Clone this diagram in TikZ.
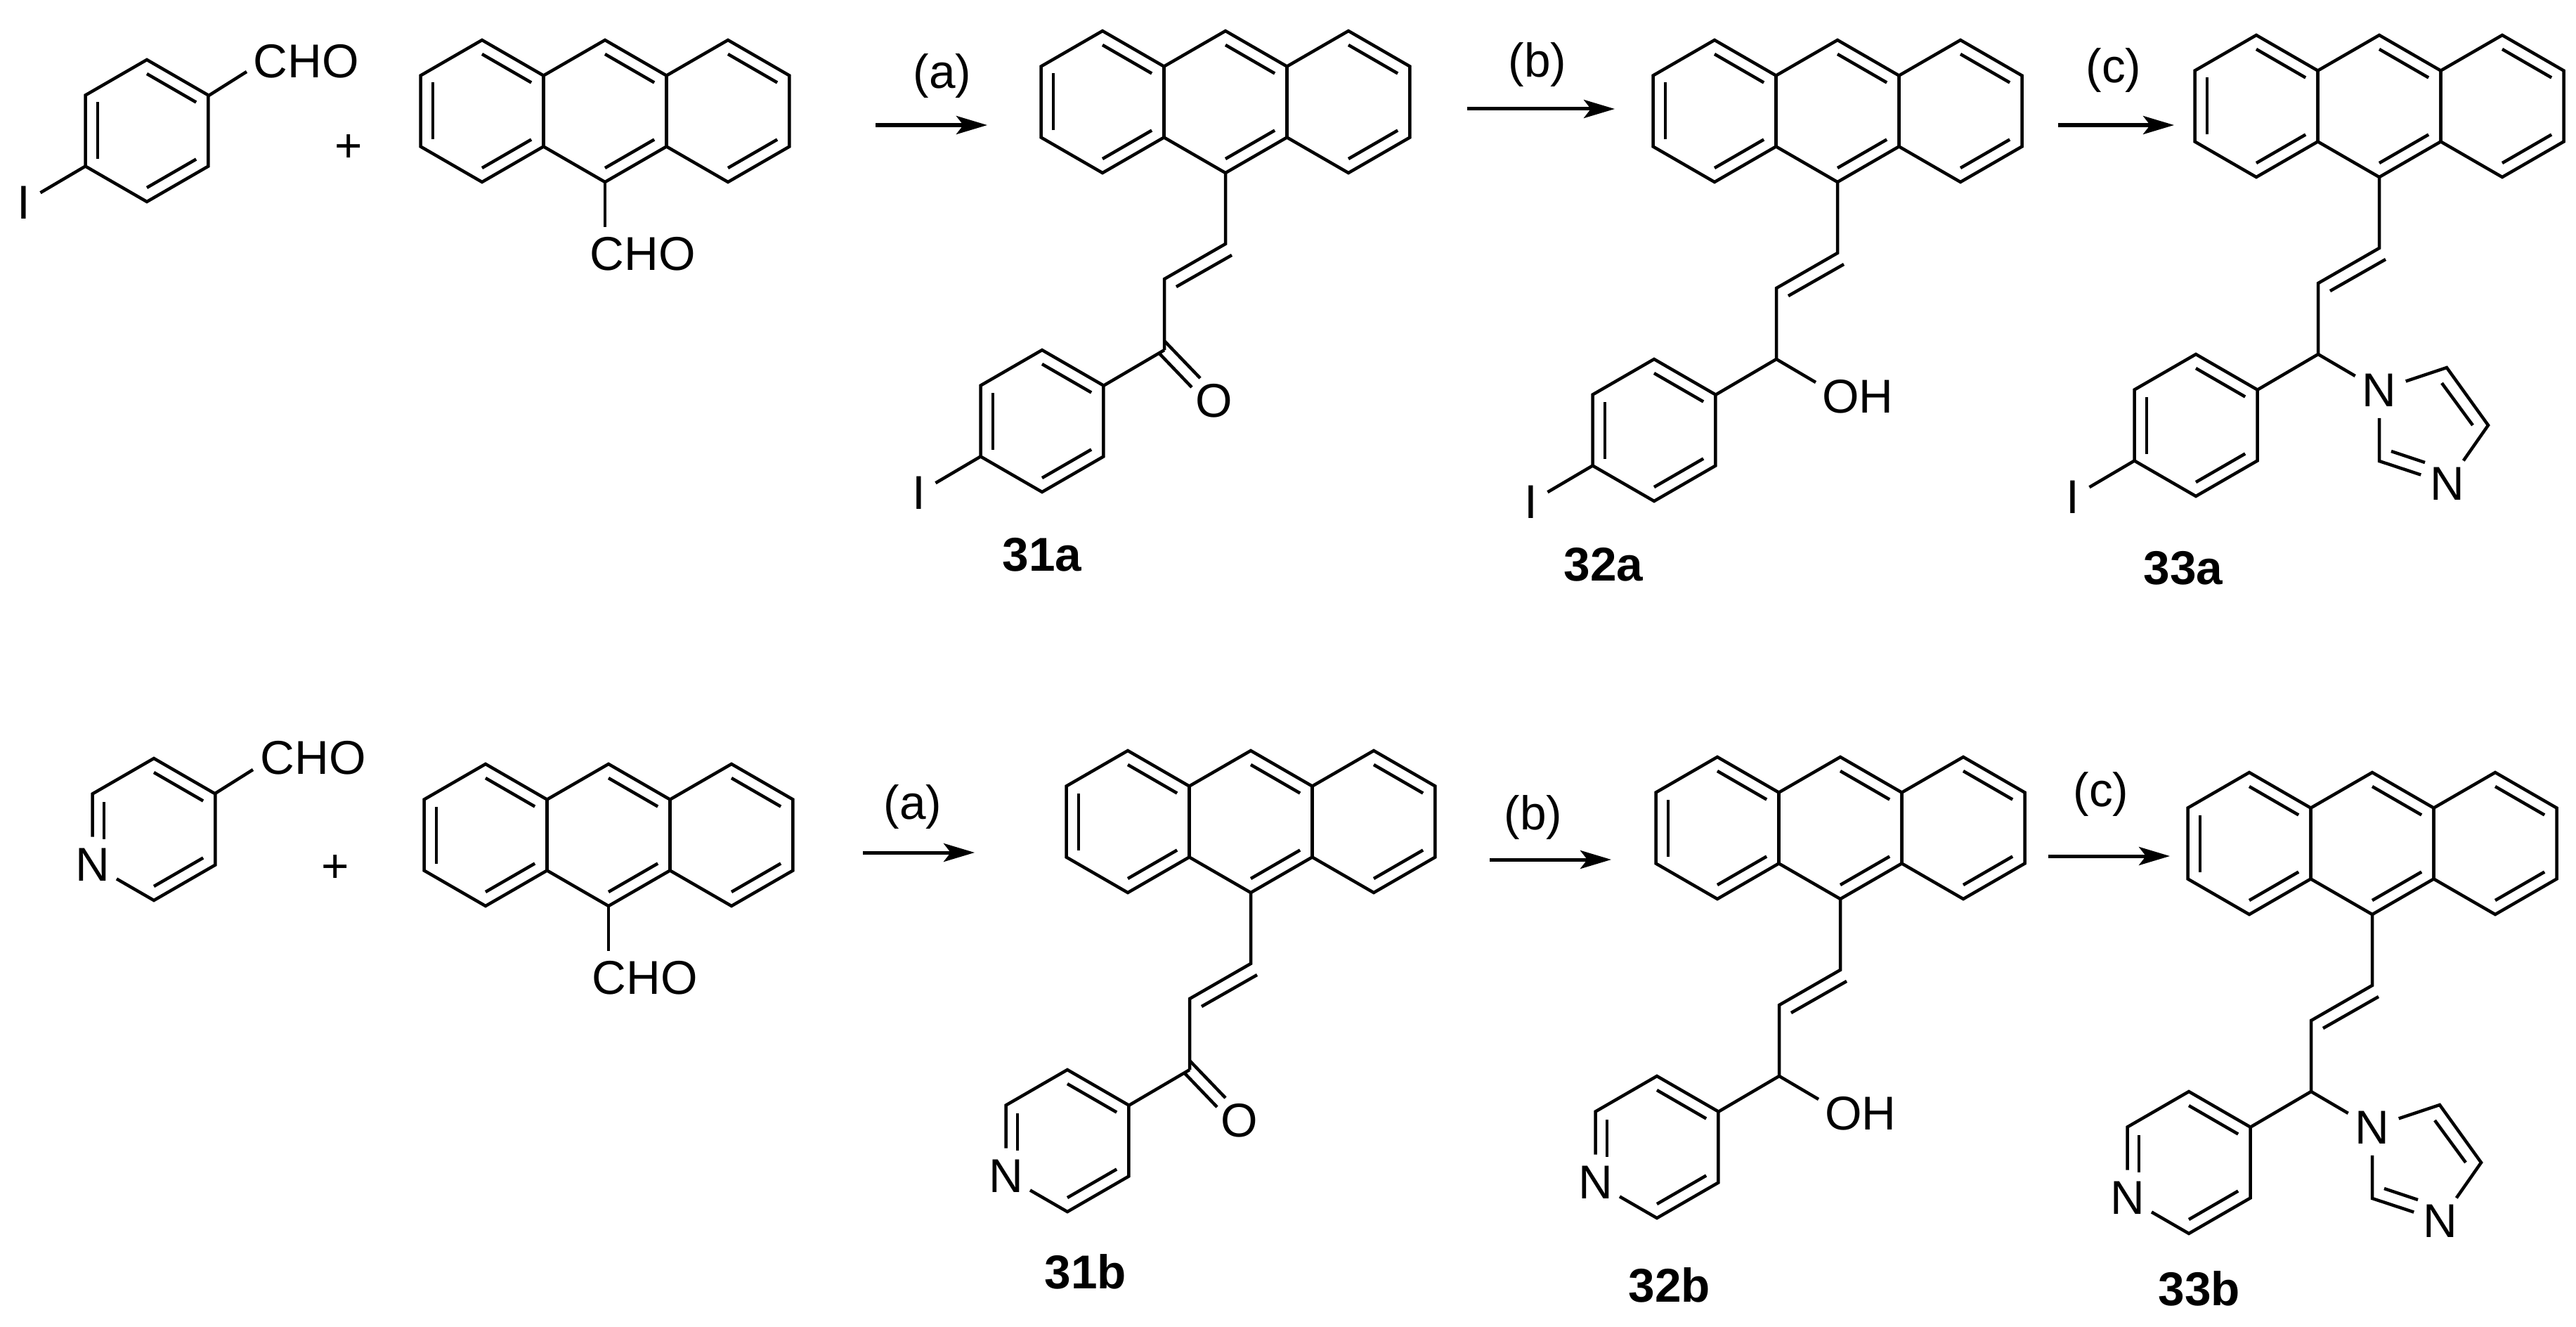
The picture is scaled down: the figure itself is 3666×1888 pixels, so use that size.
\documentclass[tikz,border=0pt]{standalone}
\usepackage{fontspec}
\setmainfont{Liberation Sans}
\usetikzlibrary{arrows.meta}

\def\txtfont{\fontsize{19.2}{22}\selectfont}
% centre x, centre y, then the edges that get an inner line
\newcommand{\hexring}[3]{
  \begin{scope}[shift={(#1,#2)}]
    \draw (30:101) -- (90:101) -- (150:101) -- (210:101) -- (270:101) -- (330:101) -- cycle;
    \foreach \a in {#3} \draw (\a:81) -- (\a+60:81);
  \end{scope}
}

\tikzset{
  chem/.style={inner sep=0pt, font=\txtfont},
  atom/.style={chem, circle, minimum size=0.75cm},
  iodine/.style={chem, circle, minimum size=0.46cm},
  cmpd/.style={chem, font=\txtfont\bfseries},
  rxn/.style={line width=0.05cm, -{Stealth[length=4.4mm,width=2.6mm,inset=1mm]}},
  anthryl/.pic={
    \hexring{-175}{-102}{30,150,270}
    \hexring{0}{-102}{30,270}
    \hexring{175}{-102}{30,270}
  },
  enechain/.pic={
    \draw (0,0) -- (0,100) -- (-87,150) -- (-87,251);
    \draw (9,116) -- (-70,161);
  },
  iodoaryl/.pic={
    \hexring{0}{0}{30,150,270}
    \node[iodine] (-i) at (-175,102) {I};
    \draw (150:101) -- (-i);
  },
  pyridyl/.pic={
    \node[atom] (-n) at (150:101) {N};
    \draw (-n) -- (90:101) -- (30:101) -- (330:101) -- (270:101) -- (210:101) -- (-n);
    \draw (-71,-39) -- (-71,14);
    \draw (30:81) -- (90:81);
    \draw (270:81) -- (330:81);
  },
  ketone/.pic={
    \node[atom] (-o) at (-16,323) {O};
    \draw (-87,251) -- (-174,302);
    \draw (-87,238) -- (-36,291);
    \draw (-95,255) -- (-48,304);
  },
  carbinol/.pic={
    \node[chem, anchor=west] (-oh) at (-24,304) {OH};
    \draw (-87,251) -- (-174,302);
    \draw (-87,251) -- (-31,284);
  },
  imidazolyl/.pic={
    \node[atom] (-n1) at (0,302) {N};
    \node[atom] (-n3) at (97,435) {N};
    \draw (-87,251) -- (-174,302);
    \draw (-87,251) -- (-n1);
    \draw (-n1) -- (96,270) -- (155,352) -- (-n3);
    \draw (-n3) -- (0,403) -- (-n1);
    \draw (89,292) -- (133,352);
    \draw (17,389) -- (65,405);
  }
}

\begin{document}
\begin{tikzpicture}[x=0.01cm, y=-0.01cm, line width=0.045cm]
  \useasboundingbox (0,0) rectangle (3666,1888);

  % starting materials
  \pic (ar1) at (209,186) {iodoaryl};
  \node[chem] (cho1) at (436,87) {CHO};
  \draw (297,136) -- (351,102);
  \node[chem] (plus1) at (496,211) {+};
  \pic (an1) at (861,260) {anthryl};
  \node[chem] (cho2) at (915,361) {CHO};
  \draw (861,260) -- (861,323);

  \pic (py1) at (219,1180) {pyridyl};
  \node[chem] (cho3) at (446,1078) {CHO};
  \draw (306,1129) -- (360,1095);
  \node[chem] (plus2) at (477,1236) {+};
  \pic (an2) at (866,1290) {anthryl};
  \node[chem] (cho4) at (918,1391) {CHO};
  \draw (866,1290) -- (866,1353);

  % reaction arrows
  \foreach \nm/\xa/\xb/\ya/\lx/\ly/\t in {aa/1246/1405/178/1341/108/a, ab/2088/2298/155/2188/92/b,
      ac/2929/3094/178/3008/100/c, ba/1228/1387/1213/1299/1148/a,
      bb/2120/2293/1223/2182/1163/b, bc/2915/3088/1218/2990/1130/c} {
    \coordinate (\nm s) at (\xa,\ya);
    \coordinate (\nm e) at (\xb,\ya);
    \draw[rxn] (\nm s) -- (\nm e);
    \node[chem] (\nm t) at (\lx,\ly) {(\t)};
  }

  % products
  \begin{scope}[shift={(1744,247)}]
    \pic (p1) {anthryl}; \pic (p1c) {enechain}; \pic (p1k) {ketone};
    \pic (p1r) at (-261,352) {iodoaryl};
  \end{scope}
  \begin{scope}[shift={(2615,260)}]
    \pic (p2) {anthryl}; \pic (p2c) {enechain}; \pic (p2k) {carbinol};
    \pic (p2r) at (-261,352) {iodoaryl};
  \end{scope}
  \begin{scope}[shift={(3386,253)}]
    \pic (p3) {anthryl}; \pic (p3c) {enechain}; \pic (p3k) {imidazolyl};
    \pic (p3r) at (-261,352) {iodoaryl};
  \end{scope}
  \begin{scope}[shift={(1780,1271)}]
    \pic (p4) {anthryl}; \pic (p4c) {enechain}; \pic (p4k) {ketone};
    \pic (p4r) at (-261,352) {pyridyl};
  \end{scope}
  \begin{scope}[shift={(2619,1280)}]
    \pic (p5) {anthryl}; \pic (p5c) {enechain}; \pic (p5k) {carbinol};
    \pic (p5r) at (-261,352) {pyridyl};
  \end{scope}
  \begin{scope}[shift={(3376,1302)}]
    \pic (p6) {anthryl}; \pic (p6c) {enechain}; \pic (p6k) {imidazolyl};
    \pic (p6r) at (-261,352) {pyridyl};
  \end{scope}

  % compound numbers
  \foreach \t/\lx/\ly in {31a/1483/789, 32a/2282/803, 33a/3107/808,
      31b/1545/1809, 32b/2376/1828, 33b/3130/1833} {
    \node[cmpd] (c\t) at (\lx,\ly) {\t};
  }
\end{tikzpicture}
\end{document}
